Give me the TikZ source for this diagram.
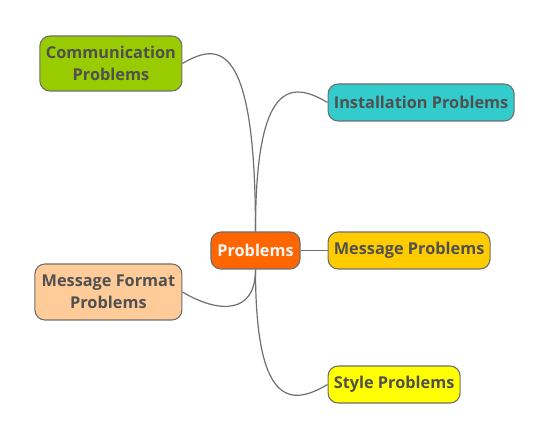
\documentclass[tikz,border=0pt]{standalone}
\usepackage{fontspec}
\setmainfont{Open Sans}
\usetikzlibrary{positioning,calc}
\definecolor{topicgray}{RGB}{80,80,80}
\definecolor{edgegray}{RGB}{110,110,110}
\definecolor{rootorange}{RGB}{255,102,0}
\definecolor{commgreen}{RGB}{153,204,0}
\definecolor{instcyan}{RGB}{51,204,204}
\definecolor{msgyellow}{RGB}{255,204,0}
\definecolor{formpeach}{RGB}{255,204,153}
\definecolor{stylyellow}{RGB}{255,255,0}

\begin{document}
\begin{tikzpicture}[node distance=27pt,
  every node/.style={font=\fontsize{16.3}{22}\selectfont\bfseries},
  topic/.style={draw=edgegray,line width=1.1pt,rounded corners=10pt,text=topicgray,align=center,inner sep=0pt,minimum height=37pt},
  link/.style={draw=edgegray,line width=1.2pt}]
  \useasboundingbox (-255.5pt,-190.5pt) rectangle (295.5pt,250.5pt);
  \node[topic,fill=rootorange,text=white!96!black,minimum width=89pt] (root) {Problems};
  \node[topic,fill=msgyellow,right=of root,minimum width=162pt] (msg) {Message Problems};
  \node[topic,fill=instcyan,right=of root,yshift=148pt,minimum width=186pt] (inst) {Installation Problems};
  \node[topic,fill=stylyellow,right=of root,yshift=-134pt,minimum width=132pt] (styl) {Style Problems};
  \node[topic,fill=commgreen,left=28pt of root,yshift=187pt,minimum width=142pt,minimum height=55pt] (comm) {Communication\\Problems};
  \node[topic,fill=formpeach,left=28pt of root,yshift=-41.5pt,minimum width=147pt,minimum height=56pt] (form) {Message Format\\Problems};
  \draw[link] (root) -- (msg);
  \foreach \n/\s/\a/\dx/\dy in {comm/north/east/37/22,inst/north/west/-37/22,form/south/east/37/-22,styl/south/west/-37/-22}{
    \draw[link] (root.\s) .. controls ($(root.\s |- \n.\a)+(0,\dy pt)$) and ($(\n.\a)+(\dx pt,\dy pt)$) .. (\n.\a);}
\end{tikzpicture}
\end{document}
